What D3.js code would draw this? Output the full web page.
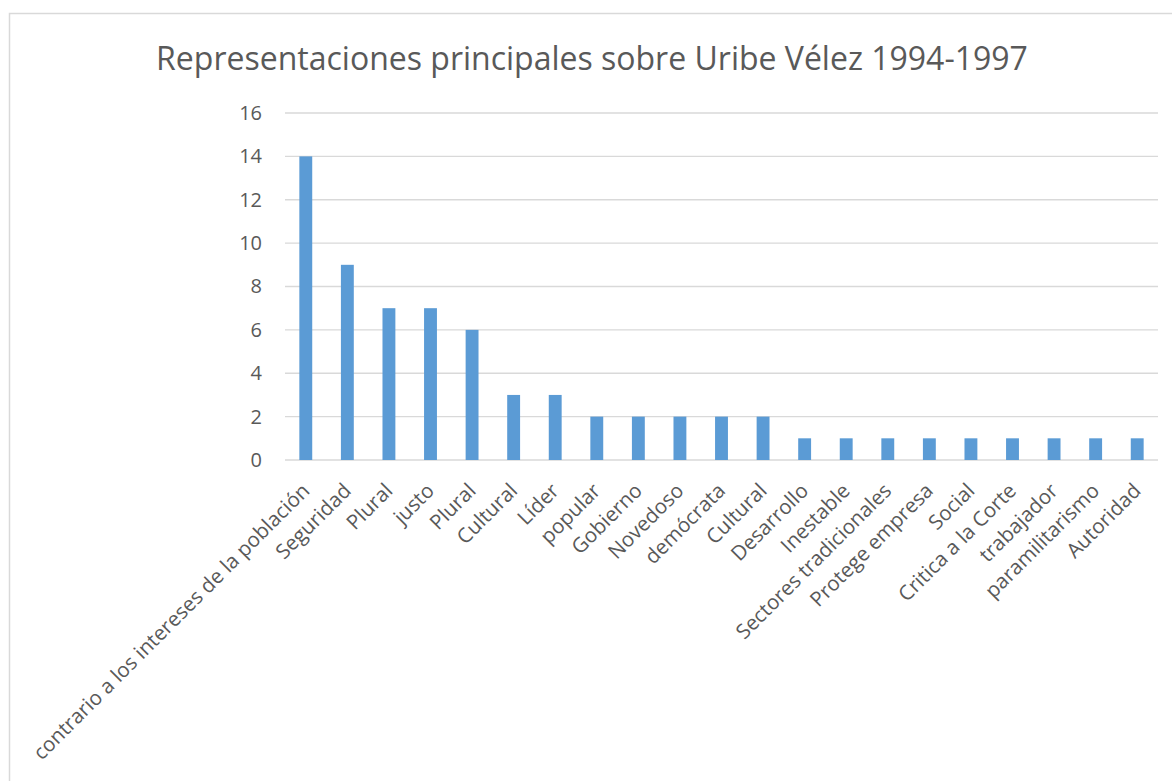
<!DOCTYPE html>
<html lang="es">
<head>
    <meta charset="UTF-8">
    <title>Representaciones principales sobre Uribe Vélez 1994-1997</title>
    <script src="https://d3js.org/d3.v7.min.js"></script>
    <style>
        body { margin: 0; background: #fff; }
        text { font-family: "Open Sans", "Noto Sans", sans-serif; fill: #595959; }
    </style>
</head>
<body>
    <div id="chart"></div>

    <script>
        const chartTitle = "Representaciones principales sobre Uribe Vélez 1994-1997";
        const categories = [
            "contrario a los intereses de la población", "Seguridad", "Plural", "justo", "Plural",
            "Cultural", "Líder", "popular", "Gobierno", "Novedoso", "demócrata", "Cultural",
            "Desarrollo", "Inestable", "Sectores tradicionales", "Protege empresa", "Social",
            "Critica a la Corte", "trabajador", "paramilitarismo", "Autoridad"
        ];
        const values = [14, 9, 7, 7, 6, 3, 3, 2, 2, 2, 2, 2, 1, 1, 1, 1, 1, 1, 1, 1, 1];
        const yTicks = [0, 2, 4, 6, 8, 10, 12, 14, 16];

        const width = 1172, height = 781;
        const margin = { top: 113, right: 14, bottom: 321, left: 285 };

        const svg = d3.select("#chart").append("svg")
            .attr("width", width)
            .attr("height", height);

        // chart frame
        svg.append("rect")
            .attr("x", 9.5).attr("y", 13.5)
            .attr("width", width + 20).attr("height", height + 20)
            .attr("fill", "none")
            .attr("stroke", "#d9d9d9")
            .attr("stroke-width", 1.5);

        svg.append("text")
            .attr("x", 592).attr("y", 70)
            .attr("text-anchor", "middle")
            .style("font-size", "32px")
            .text(chartTitle);

        const data = categories.map((c, i) => ({ key: i, label: c, value: values[i] }));

        const x = d3.scaleBand()
            .domain(data.map(d => d.key))
            .range([margin.left, width - margin.right])
            .paddingInner(0.69)
            .paddingOuter(0.345);

        const y = d3.scaleLinear()
            .domain([0, 16])
            .range([height - margin.bottom, margin.top]);

        // gridlines
        svg.append("g")
            .selectAll("line")
            .data(yTicks)
            .join("line")
            .attr("x1", margin.left).attr("x2", width - margin.right)
            .attr("y1", d => y(d)).attr("y2", d => y(d))
            .attr("stroke", "#d9d9d9")
            .attr("stroke-width", 1.3);

        // y axis labels
        const yAxis = d3.axisLeft(y).tickValues(yTicks).tickSize(0).tickPadding(23);
        svg.append("g")
            .attr("transform", `translate(${margin.left},0)`)
            .call(yAxis)
            .call(g => g.select(".domain").remove())
            .selectAll("text")
            .style("font-size", "20px")
            .attr("fill", "#595959");

        // bars
        svg.append("g")
            .selectAll("rect")
            .data(data)
            .join("rect")
            .attr("x", d => x(d.key))
            .attr("y", d => y(d.value))
            .attr("width", x.bandwidth())
            .attr("height", d => y(0) - y(d.value))
            .attr("fill", "#5b9bd5");

        // x labels rotated
        const xAxis = d3.axisBottom(x).tickSize(0).tickFormat(i => categories[i]);
        svg.append("g")
            .attr("transform", `translate(0,${y(0)})`)
            .call(xAxis)
            .call(g => g.select(".domain").remove())
            .selectAll("text")
            .style("font-size", "20.5px")
            .attr("fill", "#595959")
            .attr("text-anchor", "end")
            .attr("y", 0)
            .attr("dy", "0")
            .attr("transform", "translate(5,32) rotate(-45)");
    </script>
</body>
</html>
